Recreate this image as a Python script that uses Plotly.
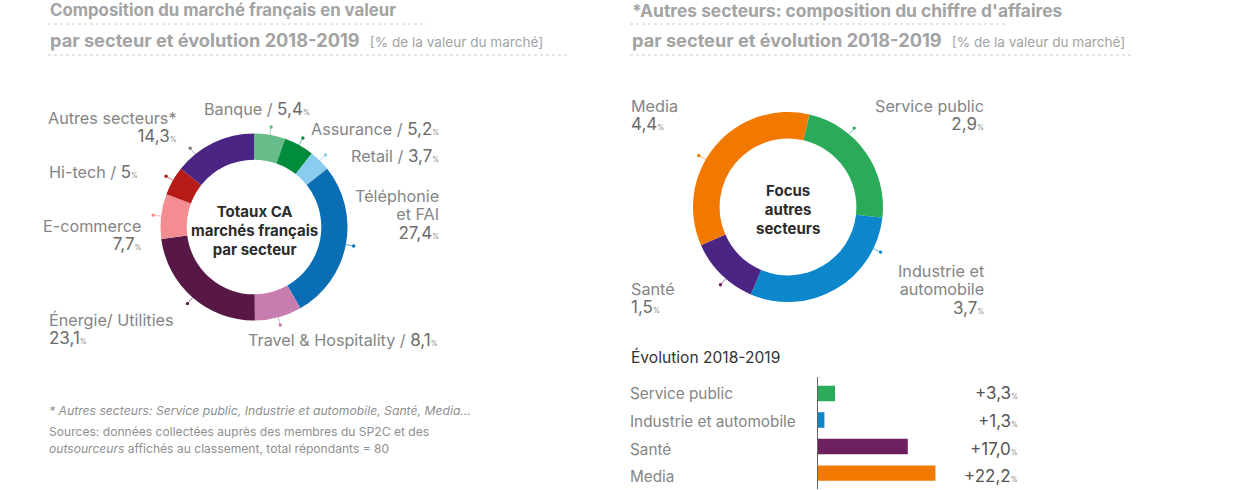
import math
import plotly.graph_objects as go

W, H = 1244, 490
FONT = "Inter"
# ---- data
market_names = ["Banque", "Assurance", "Retail", "Téléphonie et FAI", "Travel & Hospitality",
                "Énergie/ Utilities", "E-commerce", "Hi-tech", "Autres secteurs*"]
market_values = [5.4, 5.2, 3.7, 27.4, 8.1, 23.1, 7.7, 5.0, 14.3]
market_colors = ["#66bd89", "#008c3a", "#8accf0", "#0a6eb4", "#c87db0",
                 "#571845", "#f38d92", "#b61b15", "#4b2583"]
market_ticks = [9.7, 28.8, 44.8, 100.8, 165, 221, 276.7, 300, 321]

other_names = ["Service public", "Industrie et automobile", "Santé", "Media"]
other_values = [2.9, 3.7, 1.5, 4.4]
other_colors = ["#2bab5a", "#0d87cc", "#4b2583", "#f27900"]
other_ticks = [40, 116, 221, 300]

growth_values = [3.3, 1.3, 17.0, 22.2]
growth_labels = ["+3,3", "+1,3", "+17,0", "+22,2"]
growth_colors = ["#2bab5a", "#0d87cc", "#6d1f5e", "#f27900"]

def px(x): return x / W
def py(y): return 1 - y / H

fig = go.Figure()

def donut(cx, cy, r, hole, names, values, colors, rotation):
    fig.add_trace(go.Pie(labels=names, values=values, sort=False, direction="clockwise",
                         rotation=rotation, hole=hole, textinfo="none", hoverinfo="label+value",
                         marker=dict(colors=colors, line=dict(width=0)),
                         domain=dict(x=[px(cx - r), px(cx + r)], y=[py(cy + r), py(cy - r)]),
                         showlegend=False))

donut(254, 227, 93.5, 0.72, market_names, market_values, market_colors, 0)
donut(788, 207, 95, 0.72, other_names, other_values, other_colors, 13)

fig.add_trace(go.Bar(x=growth_values, y=other_names, orientation="h", width=0.58,
                     marker=dict(color=growth_colors, line=dict(width=0)),
                     xaxis="x", yaxis="y", showlegend=False, hoverinfo="x+y"))

shapes = []
def ticks(cx, cy, r, angles, colors):
    for a, c in zip(angles, colors):
        s, co = math.sin(math.radians(a)), math.cos(math.radians(a))
        x0, y0 = cx + r * s, cy - r * co
        x1, y1 = cx + (r + 8) * s, cy - (r + 8) * co
        shapes.append(dict(type="line", xref="paper", yref="paper", x0=px(x0), y0=py(y0), x1=px(x1), y1=py(y1),
                           line=dict(color=c, width=1), opacity=0.6))
        shapes.append(dict(type="circle", xref="paper", yref="paper", x0=px(x1 - 1.7), x1=px(x1 + 1.7),
                           y0=py(y1 + 1.7), y1=py(y1 - 1.7), fillcolor=c, line=dict(width=0)))
ticks(254, 227, 93.5, market_ticks, market_colors[:8] + ["#777777"])
ticks(788, 207, 95, other_ticks, ["#2bab5a", "#0d87cc", "#6d1f5e", "#f27900"])

for x0, x1, y in [(48, 427, 24), (48, 568, 55), (630, 1008, 24), (630, 1132, 55)]:
    shapes.append(dict(type="line", xref="paper", yref="paper", x0=px(x0), x1=px(x1), y0=py(y), y1=py(y),
                       line=dict(color="#cccccc", width=1, dash="dot")))

ann = []
def text(x, y, s, anchor="left", size=16.2, color="#858585", bold=False, base=None):
    lines = s.split("<br>")
    if bold:
        lines = ["<b>" + l + "</b>" for l in lines]
    if base is None:
        base = size
    else:
        lines = [f'<span style="font-size:{size}px">' + l + "</span>" for l in lines]
    ann.append(dict(x=px(x), y=py(y), xref="paper", yref="paper", text="<br>".join(lines), showarrow=False,
                    xanchor=anchor, yanchor="middle", align=anchor, borderpad=0,
                    font=dict(family=FONT, size=base, color=color)))

def pct(v, col="#6b6b6b"):
    return f'<span style="color:{col};font-size:17px">{v}</span><span style="font-size:7px">%</span>'

TITLE = "#a3a3a3"
SUB = '  <span style="font-size:13.6px;font-weight:normal">[% de la valeur du marché]</span>'
text(49, 10, "Composition du marché français en valeur", size=16.8, color=TITLE, bold=True)
text(49, 40, "<b>par secteur et évolution 2018-2019</b>" + SUB, size=18.2, color=TITLE)
text(631, 10, "*Autres secteurs: composition du chiffre d'affaires", size=17.4, color=TITLE, bold=True)
text(631, 40, "<b>par secteur et évolution 2018-2019</b>" + SUB, size=18.2, color=TITLE)

B = 14.2
text(311, 109, "Banque / " + pct("5,4"), "right")
text(440, 129, "Assurance / " + pct("5,2"), "right")
text(440, 156, "Retail / " + pct("3,7"), "right")
text(440, 215, "Téléphonie<br>et FAI<br>" + pct("27,4"), "right", base=B)
text(439, 340, "Travel & Hospitality / " + pct("8,1"), "right")
text(48, 329, "Énergie/ Utilities<br>" + pct("23,1"), base=B)
text(143, 235, "E-commerce<br>" + pct("7,7"), "right", base=B)
text(48, 172, "Hi-tech / " + pct("5"))
text(178, 127, "Autres secteurs*<br>" + pct("14,3"), "right", base=B)

text(254, 230, "Totaux CA<br>marchés français<br>par secteur", "center", size=15, color="#2b2b2b", bold=True, base=14.5)
text(788, 209, "Focus<br>autres<br>secteurs", "center", size=15, color="#2b2b2b", bold=True, base=14.5)

text(630, 115, "Media<br>" + pct("4,4"), base=B)
text(985, 115, "Service public<br>" + pct("2,9"), "right", base=B)
text(630, 298, "Santé<br>" + pct("1,5"), base=B)
text(985, 289, "Industrie et<br>automobile<br>" + pct("3,7"), "right", base=B)

text(630, 357, "Évolution 2018-2019", size=15.6, color="#333333")
for name, lab, y in zip(other_names, growth_labels, [393, 421, 449, 476]):
    text(629, y, name, size=15.3)
    text(1019, y, pct(lab, "#555555"), "right", size=15.3)

text(48, 410, "<i>* Autres secteurs: Service public, Industrie et automobile, Santé, Media…</i>", size=12.2, color="#8f8f8f")
text(48, 440, "Sources: données collectées auprès des membres du SP2C et des<br><i>outsourceurs</i> affichés au classement, total répondants = 80",
     size=12.1, color="#8f8f8f", base=13)

fig.update_layout(
    width=W, height=H, margin=dict(l=0, r=0, t=0, b=0, autoexpand=False),
    paper_bgcolor="white", plot_bgcolor="white", shapes=shapes, annotations=ann, showlegend=False,
    bargap=0.42,
    xaxis=dict(domain=[px(817.5), px(1030)], range=[0, 40], visible=False, fixedrange=True),
    yaxis=dict(domain=[py(489), py(377)], autorange=False, range=[3.6, -0.62], type="category",
               categoryorder="array", categoryarray=other_names, showticklabels=False, ticks="",
               showgrid=False, zeroline=False, showline=True, linecolor="#666666", linewidth=1, fixedrange=True),
)
fig.write_html("out.html", post_script="document.body.style.margin='0';", config=dict(displayModeBar=False))
